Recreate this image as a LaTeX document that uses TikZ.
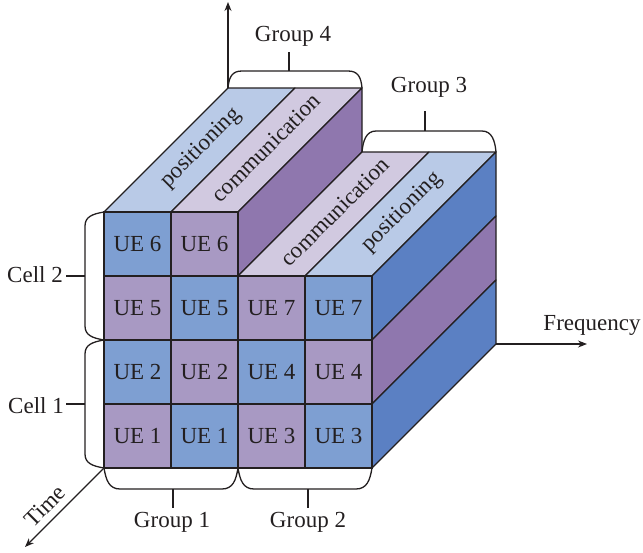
\documentclass[tikz,border=0pt]{standalone}
\usepackage{fontspec}
\setmainfont{Liberation Serif}
\usetikzlibrary{arrows.meta}
\definecolor{fblue}{HTML}{7E9FD2}
\definecolor{fpurp}{HTML}{A899C3}
\definecolor{tblue}{HTML}{B9CAE7}
\definecolor{tpurp}{HTML}{D1C9E0}
\definecolor{sblue}{HTML}{5B80C3}
\definecolor{spurp}{HTML}{8F77AE}
\definecolor{ink}{HTML}{231F20}
\tikzset{
  face/.style={draw=ink, line width=1.1pt, line join=round},
  cellbox/.style={draw=ink, line width=1.1pt, minimum width=67pt, minimum height=64pt, inner sep=0pt, text=ink, font=\fontsize{23}{26}\selectfont},
  cb/.style={cellbox, fill=fblue},
  cp/.style={cellbox, fill=fpurp},
  lbl/.style={text=ink, font=\fontsize{23}{26}\selectfont, inner sep=0pt},
  brace/.style={draw=ink, line width=1.3pt, line join=round},
  axis/.style={draw=ink, line width=1.1pt, -{Stealth[length=9pt,width=7pt]}}
}
\begin{document}
\begin{tikzpicture}[x=1pt,y=-1pt]
\useasboundingbox (0,0) rectangle (643,552);
% corners
\coordinate (tlb) at (228,88);
\coordinate (trb) at (362,88);
\coordinate (rtb) at (362,152);
\coordinate (rrb) at (496,152);
\coordinate (fbl) at (104,468);
\coordinate (fbm) at (238,468);
\coordinate (fbr) at (372,468);
\coordinate (bbr) at (496,344);
\coordinate (c2t) at (104,212);
\coordinate (c2b) at (104,340);
\coordinate (c1b) at (104,468);
\coordinate (up) at (228,2);
\coordinate (fr) at (587,344);
\coordinate (tm) at (25,547);
% top faces and sides
\filldraw[face, fill=tblue] (104,212) -- (171,212) -- (295,88) -- (228,88) -- cycle;
\filldraw[face, fill=tpurp] (171,212) -- (238,212) -- (362,88) -- (295,88) -- cycle;
\filldraw[face, fill=spurp] (238,212) -- (362,88) -- (362,152) -- (238,276) -- cycle;
\filldraw[face, fill=tpurp] (238,276) -- (305,276) -- (429,152) -- (362,152) -- cycle;
\filldraw[face, fill=tblue] (305,276) -- (372,276) -- (496,152) -- (429,152) -- cycle;
\filldraw[face, fill=sblue] (372,276) -- (496,152) -- (496,216) -- (372,340) -- cycle;
\filldraw[face, fill=spurp] (372,340) -- (496,216) -- (496,280) -- (372,404) -- cycle;
\filldraw[face, fill=sblue] (372,404) -- (496,280) -- (496,344) -- (372,468) -- cycle;
% top labels
\node[lbl, rotate=45] (p4) at (201,148) {positioning};
\node[lbl, rotate=45] (c4) at (266,148) {communication};
\node[lbl, rotate=45] (c3) at (335,212) {communication};
\node[lbl, rotate=45] (p3) at (402,212) {positioning};
% front cells
\node[cb] (u6a) at (137.5,244) {UE 6};
\node[cp] (u6b) at (204.5,244) {UE 6};
\node[cp] (u5a) at (137.5,308) {UE 5};
\node[cb] (u5b) at (204.5,308) {UE 5};
\node[cp] (u7a) at (271.5,308) {UE 7};
\node[cb] (u7b) at (338.5,308) {UE 7};
\node[cb] (u2a) at (137.5,372) {UE 2};
\node[cp] (u2b) at (204.5,372) {UE 2};
\node[cb] (u4a) at (271.5,372) {UE 4};
\node[cp] (u4b) at (338.5,372) {UE 4};
\node[cp] (u1a) at (137.5,436) {UE 1};
\node[cb] (u1b) at (204.5,436) {UE 1};
\node[cp] (u3a) at (271.5,436) {UE 3};
\node[cb] (u3b) at (338.5,436) {UE 3};
% axes
\draw[axis] (tlb) -- (up);
\draw[axis] (bbr) -- (fr);
\draw[axis] (fbl) -- (tm);
% braces
\draw[brace] (tlb) .. controls (229,77) and (232,71) .. (242,71) -- (348,71) .. controls (358,71) and (361,77) .. (trb);
\draw[brace] (289,71) -- (289,52);
\draw[brace] (rtb) .. controls (363,141) and (366,131) .. (376,131) -- (482,131) .. controls (492,131) and (495,141) .. (rrb);
\draw[brace] (425,131) -- (425,111);
\draw[brace] (fbl) .. controls (106,480) and (109,489) .. (120,489) -- (222,489) .. controls (233,489) and (236,480) .. (fbm);
\draw[brace] (173,489) -- (173,508);
\draw[brace] (fbm) .. controls (240,480) and (243,489) .. (254,489) -- (356,489) .. controls (367,489) and (370,480) .. (fbr);
\draw[brace] (308,489) -- (308,508);
\draw[brace] (c2t) .. controls (92,214) and (85,217) .. (85,226) -- (85,326) .. controls (85,335) and (92,338) .. (c2b);
\draw[brace] (85,276) -- (66,276);
\draw[brace] (c2b) .. controls (92,342) and (85,345) .. (85,354) -- (85,454) .. controls (85,463) and (92,466) .. (c1b);
\draw[brace] (85,404) -- (66,404);
% labels
\node[lbl] (g4) at (293,36) {Group 4};
\node[lbl] (g3) at (429,87) {Group 3};
\node[lbl] (fq) at (592,325) {Frequency};
\node[lbl] (cl2) at (35,275) {Cell 2};
\node[lbl] (cl1) at (36,406) {Cell 1};
\node[lbl] (g1) at (172,522) {Group 1};
\node[lbl] (g2) at (308,522) {Group 2};
\node[lbl, rotate=45] (ti) at (45,506) {Time};
\end{tikzpicture}
\end{document}
